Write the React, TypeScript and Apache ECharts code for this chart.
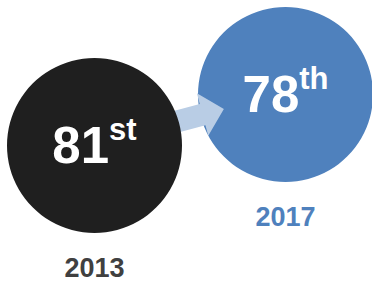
import React, { useEffect, useRef } from "react";
import * as echarts from "echarts";

const years = [2013, 2017];
const ranks = [81, 78];
const circleColors = ["#1f1f1f", "#4f81bd"];
const yearColors = ["#404040", "#4f81bd"];
const arrowColor = "#b9cde5";

const FONT = "'Liberation Sans', Arial, sans-serif";

function suffix(n: number): string {
  const m100 = n % 100;
  if (m100 >= 11 && m100 <= 13) return "th";
  const m = n % 10;
  if (m === 1) return "st";
  if (m === 2) return "nd";
  if (m === 3) return "rd";
  return "th";
}

export default function App() {
  const ref = useRef<HTMLDivElement>(null);
  useEffect(() => {
    if (!ref.current) return;
    const chart = echarts.init(ref.current, null, { renderer: "svg" });

    const circleSeries = years.map((y, i) => ({
      type: "scatter",
      z: i === 0 ? 3 : 1,
      silent: true,
      symbol: "circle",
      symbolSize: 175,
      itemStyle: { color: circleColors[i], opacity: 1 },
      data: [[y, ranks[i]]],
      label: {
        show: true,
        position: "inside",
        opacity: 1,
        formatter: `{n|${ranks[i]}}{s|${suffix(ranks[i])}}`,
        rich: {
          n: {
            fontSize: 51,
            fontWeight: "bold",
            color: "#ffffff",
            fontFamily: FONT,
            lineHeight: 63,
          },
          s: {
            fontSize: 31,
            fontWeight: "bold",
            color: "#ffffff",
            fontFamily: FONT,
            verticalAlign: "top",
          },
        },
      },
    }));

    const yearSeries = {
      type: "scatter",
      z: 4,
      silent: true,
      symbolSize: 1,
      itemStyle: { color: "rgba(0,0,0,0)", opacity: 1 },
      data: years.map((y, i) => ({
        value: [y, ranks[i]],
        label: { color: yearColors[i] },
      })),
      label: {
        show: true,
        position: "inside",
        opacity: 1,
        offset: [0, 122],
        formatter: (p: any) => String(p.value[0]),
        fontSize: 27,
        fontWeight: "bold",
        fontFamily: FONT,
      },
    };

    const arrowSeries = {
      type: "custom",
      z: 2,
      silent: true,
      data: [[years[0], ranks[0], years[1], ranks[1]]],
      renderItem: (params: any, api: any) => {
        const a = api.coord([api.value(0), api.value(1)]);
        const b = api.coord([api.value(2), api.value(3)]);
        const dx = b[0] - a[0];
        const dy = b[1] - a[1];
        const d = Math.sqrt(dx * dx + dy * dy);
        const ux = dx / d;
        const uy = dy / d;
        const nx = -uy;
        const ny = ux;
        const shift = -2;
        const ox = a[0] + nx * shift;
        const oy = a[1] + ny * shift;
        const tipD = d * 0.68;
        const headLen = 22;
        const shaftHalf = 11;
        const headHalf = 22;
        const p = (t: number, s: number) => [ox + ux * t + nx * s, oy + uy * t + ny * s];
        const points = [
          p(0, -shaftHalf),
          p(tipD - headLen, -shaftHalf),
          p(tipD - headLen, -headHalf),
          p(tipD, 0),
          p(tipD - headLen, headHalf),
          p(tipD - headLen, shaftHalf),
          p(0, shaftHalf),
        ];
        return {
          type: "polygon",
          shape: { points },
          style: { fill: arrowColor },
        };
      },
    };

    chart.setOption({
      animation: false,
      backgroundColor: "#ffffff",
      grid: { left: 94.5, right: 86.5, top: 43.5, bottom: 71.5 },
      xAxis: { type: "value", min: 2013, max: 2017, show: false },
      yAxis: { type: "value", min: 75, max: 85, inverse: true, show: false },
      series: [...circleSeries, arrowSeries, yearSeries],
    });
    return () => chart.dispose();
  }, []);
  return (
    <div
      ref={ref}
      style={{ position: "fixed", left: 0, top: 0, width: 372, height: 285 }}
    />
  );
}
